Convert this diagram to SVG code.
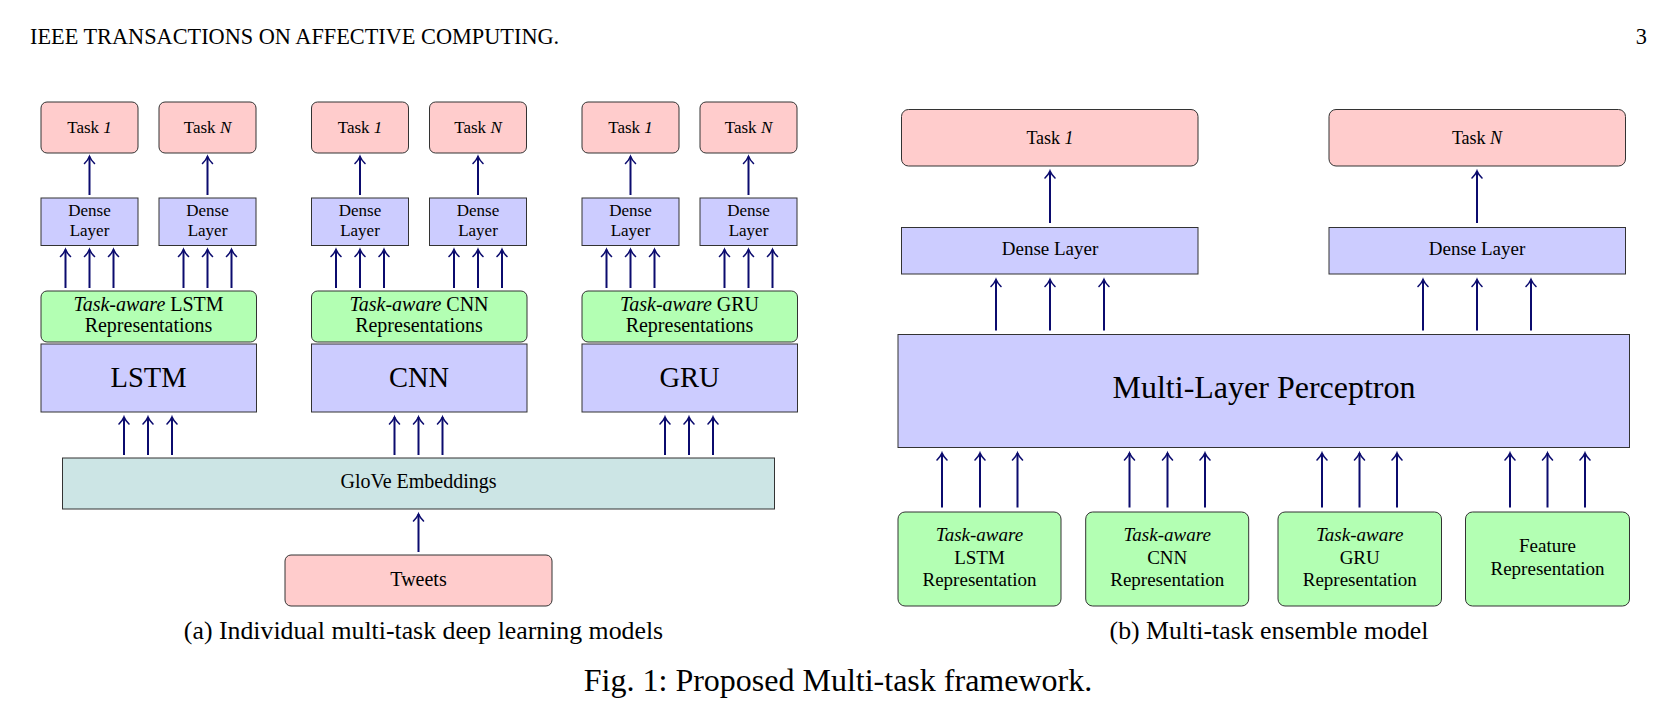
<svg xmlns="http://www.w3.org/2000/svg" width="1658" height="712" viewBox="0 0 1658 712">
<defs>
<style>
text{font-family:"Liberation Serif","Times New Roman",serif;fill:#000;text-anchor:middle}
.pink{fill:#ffcccc;stroke:#333;stroke-width:1}
.blue{fill:#ccccff;stroke:#333;stroke-width:1}
.green{fill:#b3ffb3;stroke:#333;stroke-width:1}
.teal{fill:#cce5e5;stroke:#333;stroke-width:1}
.ar line{stroke:#0b0b6e;stroke-width:2;marker-end:url(#ah)}
.it{font-style:italic}
.s17{font-size:17px}.s18{font-size:18px}.s19{font-size:19px}.s20{font-size:20px}.s28{font-size:28.5px}.s32{font-size:32px}.s26{font-size:25.8px}
</style>
<marker id="ah" markerUnits="userSpaceOnUse" markerWidth="14" markerHeight="14" viewBox="-8 -7 10 14" refX="0" refY="0" orient="auto" overflow="visible">
<path d="M-7,-5 C-4,-2 -1.5,-0.6 0,0 C-1.5,0.6 -4,2 -7,5" fill="none" stroke="#0b0b6e" stroke-width="1.6" stroke-linecap="round"/>
</marker>
</defs>
<rect width="1658" height="712" fill="#fff"/>
<text x="30" y="44" style="text-anchor:start;font-size:22.3px">IEEE TRANSACTIONS ON AFFECTIVE COMPUTING.</text>
<text x="1647" y="44" style="text-anchor:end;font-size:22.3px">3</text>

<!-- Panel (a) -->
<g id="a-lstm-task1"><rect class="pink" x="41" y="102" width="97" height="51" rx="6"/><text x="89.5" y="133" class="s17">Task <tspan class="it">1</tspan></text></g>
<g id="a-lstm-taskN"><rect class="pink" x="159" y="102" width="97" height="51" rx="6"/><text x="207.5" y="133" class="s17">Task <tspan class="it">N</tspan></text></g>
<g id="a-lstm-dense1"><rect class="blue" x="41" y="198" width="97" height="47.5"/><text x="89.5" y="215.5" class="s17">Dense</text><text x="89.5" y="236" class="s17">Layer</text></g>
<g id="a-lstm-denseN"><rect class="blue" x="159" y="198" width="97" height="47.5"/><text x="207.5" y="215.5" class="s17">Dense</text><text x="207.5" y="236" class="s17">Layer</text></g>
<g id="a-lstm-rep"><rect class="green" x="41" y="291" width="215.5" height="51" rx="6"/><text x="148.5" y="311" class="s20"><tspan class="it">Task-aware</tspan> LSTM</text><text x="148.5" y="331.5" class="s20">Representations</text></g>
<g id="a-lstm"><rect class="blue" x="41" y="344" width="215.5" height="68"/><text x="148.5" y="387" class="s28">LSTM</text></g>

<g id="a-cnn-task1"><rect class="pink" x="311.5" y="102" width="97" height="51" rx="6"/><text x="360" y="133" class="s17">Task <tspan class="it">1</tspan></text></g>
<g id="a-cnn-taskN"><rect class="pink" x="429.5" y="102" width="97" height="51" rx="6"/><text x="478" y="133" class="s17">Task <tspan class="it">N</tspan></text></g>
<g id="a-cnn-dense1"><rect class="blue" x="311.5" y="198" width="97" height="47.5"/><text x="360" y="215.5" class="s17">Dense</text><text x="360" y="236" class="s17">Layer</text></g>
<g id="a-cnn-denseN"><rect class="blue" x="429.5" y="198" width="97" height="47.5"/><text x="478" y="215.5" class="s17">Dense</text><text x="478" y="236" class="s17">Layer</text></g>
<g id="a-cnn-rep"><rect class="green" x="311.5" y="291" width="215.5" height="51" rx="6"/><text x="419" y="311" class="s20"><tspan class="it">Task-aware</tspan> CNN</text><text x="419" y="331.5" class="s20">Representations</text></g>
<g id="a-cnn"><rect class="blue" x="311.5" y="344" width="215.5" height="68"/><text x="419" y="387" class="s28">CNN</text></g>

<g id="a-gru-task1"><rect class="pink" x="582" y="102" width="97" height="51" rx="6"/><text x="630.5" y="133" class="s17">Task <tspan class="it">1</tspan></text></g>
<g id="a-gru-taskN"><rect class="pink" x="700" y="102" width="97" height="51" rx="6"/><text x="748.5" y="133" class="s17">Task <tspan class="it">N</tspan></text></g>
<g id="a-gru-dense1"><rect class="blue" x="582" y="198" width="97" height="47.5"/><text x="630.5" y="215.5" class="s17">Dense</text><text x="630.5" y="236" class="s17">Layer</text></g>
<g id="a-gru-denseN"><rect class="blue" x="700" y="198" width="97" height="47.5"/><text x="748.5" y="215.5" class="s17">Dense</text><text x="748.5" y="236" class="s17">Layer</text></g>
<g id="a-gru-rep"><rect class="green" x="582" y="291" width="215.5" height="51" rx="6"/><text x="689.5" y="311" class="s20"><tspan class="it">Task-aware</tspan> GRU</text><text x="689.5" y="331.5" class="s20">Representations</text></g>
<g id="a-gru"><rect class="blue" x="582" y="344" width="215.5" height="68"/><text x="689.5" y="387" class="s28">GRU</text></g>

<g id="a-glove"><rect class="teal" x="62.5" y="458" width="712" height="51"/><text x="418.5" y="488.3" class="s20">GloVe Embeddings</text></g>
<g id="a-tweets"><rect class="pink" x="285" y="555" width="267" height="51" rx="6"/><text x="418.5" y="586" class="s20">Tweets</text></g>
<text x="423.5" y="639" class="s26">(a) Individual multi-task deep learning models</text>

<!-- Panel (b) -->
<g id="b-task1"><rect class="pink" x="901.5" y="109.5" width="296.5" height="56.5" rx="7"/><text x="1050" y="144" class="s18">Task <tspan class="it">1</tspan></text></g>
<g id="b-taskN"><rect class="pink" x="1329" y="109.5" width="296.5" height="56.5" rx="7"/><text x="1477" y="144" class="s18">Task <tspan class="it">N</tspan></text></g>
<g id="b-dense1"><rect class="blue" x="901.5" y="227.5" width="296.5" height="46.5"/><text x="1050" y="255" class="s19">Dense Layer</text></g>
<g id="b-denseN"><rect class="blue" x="1329" y="227.5" width="296.5" height="46.5"/><text x="1477" y="255" class="s19">Dense Layer</text></g>
<g id="b-mlp"><rect class="blue" x="898" y="334.5" width="731.5" height="113"/><text x="1264" y="398" class="s32">Multi-Layer Perceptron</text></g>
<g id="b-lstm"><rect class="green" x="898" y="512" width="163" height="94" rx="7"/><text x="979.5" y="541" class="s19 it">Task-aware</text><text x="979.5" y="563.5" class="s19">LSTM</text><text x="979.5" y="586" class="s19">Representation</text></g>
<g id="b-cnn"><rect class="green" x="1085.7" y="512" width="163" height="94" rx="7"/><text x="1167.2" y="541" class="s19 it">Task-aware</text><text x="1167.2" y="563.5" class="s19">CNN</text><text x="1167.2" y="586" class="s19">Representation</text></g>
<g id="b-gru"><rect class="green" x="1278" y="512" width="163.5" height="94" rx="7"/><text x="1359.7" y="541" class="s19 it">Task-aware</text><text x="1359.7" y="563.5" class="s19">GRU</text><text x="1359.7" y="586" class="s19">Representation</text></g>
<g id="b-feature"><rect class="green" x="1465.5" y="512" width="164" height="94" rx="7"/><text x="1547.5" y="552" class="s19">Feature</text><text x="1547.5" y="574.5" class="s19">Representation</text></g>
<text x="1269" y="639" class="s26">(b) Multi-task ensemble model</text>

<text x="838" y="691" class="s32">Fig. 1: Proposed Multi-task framework.</text>

<g id="connectors" class="ar">
<line x1="89.5" y1="195" x2="89.5" y2="156.5"/><line x1="207.5" y1="195" x2="207.5" y2="156.5"/>
<line x1="360" y1="195" x2="360" y2="156.5"/><line x1="478" y1="195" x2="478" y2="156.5"/>
<line x1="630.5" y1="195" x2="630.5" y2="156.5"/><line x1="748.5" y1="195" x2="748.5" y2="156.5"/>
<line x1="65.5" y1="288" x2="65.5" y2="249.5"/><line x1="89.5" y1="288" x2="89.5" y2="249.5"/><line x1="113.5" y1="288" x2="113.5" y2="249.5"/>
<line x1="183.5" y1="288" x2="183.5" y2="249.5"/><line x1="207.5" y1="288" x2="207.5" y2="249.5"/><line x1="231.5" y1="288" x2="231.5" y2="249.5"/>
<line x1="336" y1="288" x2="336" y2="249.5"/><line x1="360" y1="288" x2="360" y2="249.5"/><line x1="384" y1="288" x2="384" y2="249.5"/>
<line x1="454" y1="288" x2="454" y2="249.5"/><line x1="478" y1="288" x2="478" y2="249.5"/><line x1="502" y1="288" x2="502" y2="249.5"/>
<line x1="606.5" y1="288" x2="606.5" y2="249.5"/><line x1="630.5" y1="288" x2="630.5" y2="249.5"/><line x1="654.5" y1="288" x2="654.5" y2="249.5"/>
<line x1="724.5" y1="288" x2="724.5" y2="249.5"/><line x1="748.5" y1="288" x2="748.5" y2="249.5"/><line x1="772.5" y1="288" x2="772.5" y2="249.5"/>
<line x1="124" y1="455" x2="124" y2="417"/><line x1="148" y1="455" x2="148" y2="417"/><line x1="172" y1="455" x2="172" y2="417"/>
<line x1="394.5" y1="455" x2="394.5" y2="417"/><line x1="418.5" y1="455" x2="418.5" y2="417"/><line x1="442.5" y1="455" x2="442.5" y2="417"/>
<line x1="665" y1="455" x2="665" y2="417"/><line x1="689" y1="455" x2="689" y2="417"/><line x1="713" y1="455" x2="713" y2="417"/>
<line x1="418.5" y1="552" x2="418.5" y2="514"/>
<line x1="1050" y1="223" x2="1050" y2="171"/><line x1="1477" y1="223" x2="1477" y2="171"/>
<line x1="996" y1="330.5" x2="996" y2="279.5"/><line x1="1050" y1="330.5" x2="1050" y2="279.5"/><line x1="1104" y1="330.5" x2="1104" y2="279.5"/>
<line x1="1423" y1="330.5" x2="1423" y2="279.5"/><line x1="1477" y1="330.5" x2="1477" y2="279.5"/><line x1="1531" y1="330.5" x2="1531" y2="279.5"/>
<line x1="942" y1="507.5" x2="942" y2="453"/><line x1="980" y1="507.5" x2="980" y2="453"/><line x1="1017.5" y1="507.5" x2="1017.5" y2="453"/>
<line x1="1129.5" y1="507.5" x2="1129.5" y2="453"/><line x1="1167.5" y1="507.5" x2="1167.5" y2="453"/><line x1="1205" y1="507.5" x2="1205" y2="453"/>
<line x1="1322" y1="507.5" x2="1322" y2="453"/><line x1="1359.5" y1="507.5" x2="1359.5" y2="453"/><line x1="1397" y1="507.5" x2="1397" y2="453"/>
<line x1="1510" y1="507.5" x2="1510" y2="453"/><line x1="1547.5" y1="507.5" x2="1547.5" y2="453"/><line x1="1585" y1="507.5" x2="1585" y2="453"/>
</g>
</svg>
